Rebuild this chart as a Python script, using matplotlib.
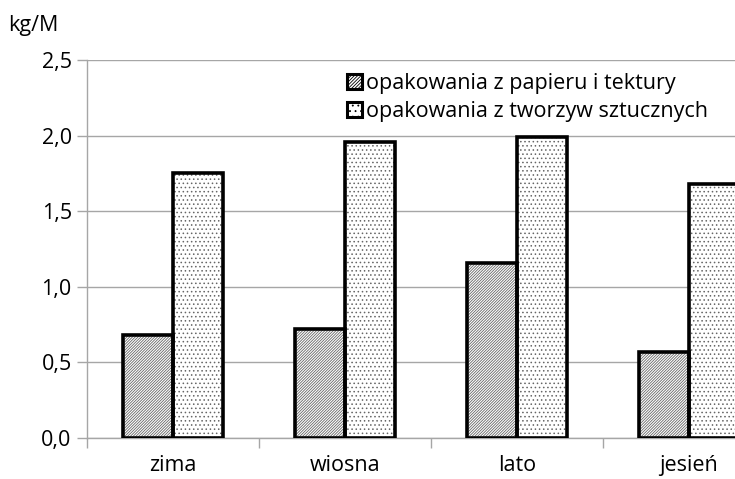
import matplotlib
matplotlib.use('Agg')
import matplotlib.pyplot as plt
from matplotlib.patches import Patch
from matplotlib.legend_handler import HandlerPatch
import numpy as np

seasons = ['zima', 'wiosna', 'lato', 'jesień']
paper = [0.68, 0.72, 1.16, 0.57]
plastic = [1.75, 1.96, 1.99, 1.68]
series_labels = ['opakowania z papieru i tektury', 'opakowania z tworzyw sztucznych']
y_ticks = [0.0, 0.5, 1.0, 1.5, 2.0, 2.5]
y_tick_labels = ['0,0', '0,5', '1,0', '1,5', '2,0', '2,5']

plt.rcParams['font.family'] = ['Open Sans', 'DejaVu Sans']
plt.rcParams['hatch.linewidth'] = 0.6

grid_col = '#a6a6a6'
hatch_col = '#666666'
fs = 15.5

fig = plt.figure(figsize=(7.35, 4.79), dpi=100)
ax = fig.add_axes([87/735, 41/479, 688/735, 378/479])

x = np.arange(len(seasons))
w = 0.29
for vals, off, hatch in [(paper, -w/2, '/' * 12), (plastic, w/2, '.' * 4)]:
    # hatch pass in grey, then thick black outline on top
    ax.bar(x + off, vals, w, color='white', edgecolor=hatch_col, hatch=hatch, linewidth=0, zorder=2)
    ax.bar(x + off, vals, w, color='none', edgecolor='black', linewidth=2.6, zorder=3)

ax.set_xlim(-0.5, len(seasons) - 0.5)
ax.set_ylim(0, 2.5)
ax.set_yticks(y_ticks)
ax.set_yticklabels(y_tick_labels, fontsize=fs)
ax.set_xticks(x)
ax.set_xticklabels(seasons, fontsize=fs)
ax.set_xticks(np.arange(-0.5, len(seasons)), minor=True)
ax.tick_params(axis='x', which='major', length=0, pad=12)
ax.tick_params(axis='x', which='minor', length=7, color=grid_col, width=1)
ax.tick_params(axis='y', length=7, color=grid_col, width=1, pad=4)
ax.grid(axis='y', color=grid_col, linewidth=1, zorder=0)
ax.set_axisbelow(True)
for s in ['top', 'right']:
    ax.spines[s].set_visible(False)
for s in ['left', 'bottom']:
    ax.spines[s].set_color(grid_col)
    ax.spines[s].set_linewidth(1)

fig.text(8/735, 1 - 26/479, 'kg/M', fontsize=fs, va='center', ha='left')


class SquareHandler(HandlerPatch):
    def create_artists(self, legend, orig_handle, xdescent, ydescent, width, height, fontsize, trans):
        side = 11
        p = plt.Rectangle((xdescent + (width - side) / 2, ydescent + (height - side) / 2), side, side,
                          facecolor='white', edgecolor='black', hatch=orig_handle.get_hatch(),
                          linewidth=2.2, transform=trans)
        return [p]


handles = [Patch(hatch='/' * 10), Patch(hatch='.' * 3)]
fig.legend(handles, series_labels, loc='upper left', bbox_to_anchor=(336/735, 1 - 62/479),
           frameon=False, fontsize=fs, handlelength=0.7, handleheight=0.7,
           handletextpad=0.2, labelspacing=0.35, borderpad=0,
           handler_map={Patch: SquareHandler()})

fig.savefig('out.png', dpi=100)
